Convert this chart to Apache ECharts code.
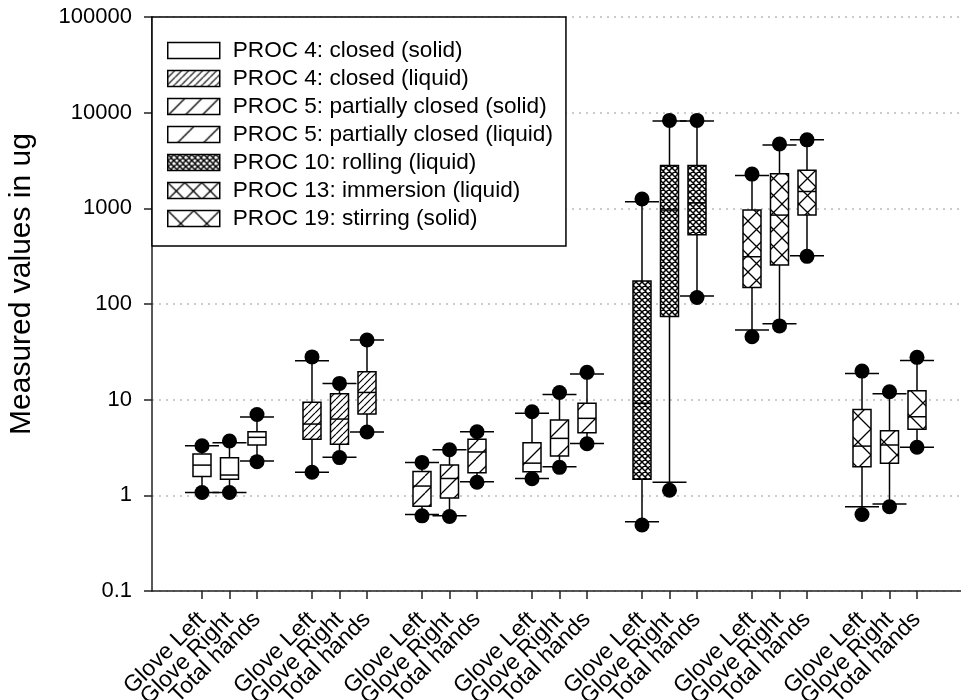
<!DOCTYPE html>
<html>
<head>
<meta charset="utf-8">
<script src="https://cdn.jsdelivr.net/npm/echarts@6.0.0/dist/echarts.min.js"></script>
<style>
  html, body { margin: 0; padding: 0; background: #fff; }
  #main { width: 961px; height: 700px; }
</style>
</head>
<body>
<div id="main"></div>
<script>
// legend entries, one per process group
const groupNames = [
  'PROC 4: closed (solid)',
  'PROC 4: closed (liquid)',
  'PROC 5: partially closed (solid)',
  'PROC 5: partially closed (liquid)',
  'PROC 10: rolling (liquid)',
  'PROC 13: immersion (liquid)',
  'PROC 19: stirring (solid)'
];
const boxLabels = ['Glove Left', 'Glove Right', 'Total hands'];
const yTicks = [0.1, 1, 10, 100, 1000, 10000, 100000];

// each box: [dot low, whisker low, q1, median, q3, whisker high, dot high]
const proc4Solid = [
  [1.07, 1.07, 1.57, 2.07, 2.7, 3.3, 3.3],
  [1.07, 1.07, 1.47, 1.63, 2.47, 3.55, 3.7],
  [2.25, 2.28, 3.36, 4.04, 4.62, 6.6, 7.0]
];
const proc4Liquid = [
  [1.74, 1.74, 3.85, 5.56, 9.4, 25.5, 28],
  [2.48, 2.5, 3.41, 6.27, 11.5, 14.8, 14.8],
  [4.59, 4.59, 7.08, 11.9, 19.6, 42, 42]
];
const proc5Solid = [
  [0.61, 0.63, 0.77, 1.25, 1.77, 2.21, 2.21],
  [0.6, 0.61, 0.94, 1.5, 2.07, 3.0, 3.0],
  [1.37, 1.39, 1.72, 2.84, 3.85, 4.62, 4.62]
];
const proc5Liquid = [
  [1.49, 1.5, 1.76, 2.17, 3.55, 7.2, 7.48],
  [1.96, 1.99, 2.58, 3.94, 6.12, 11.3, 11.9],
  [3.46, 3.49, 4.51, 6.38, 9.15, 18.5, 19.3]
];
const proc10Liquid = [
  [0.49, 0.53, 1.47, 9.15, 174, 1170, 1250],
  [1.13, 1.37, 74, 960, 2800, 8200, 8300],
  [117, 121, 530, 1140, 2800, 8200, 8300]
];
const proc13Liquid = [
  [45.5, 53.5, 149, 312, 960, 2200, 2280],
  [59, 62, 256, 850, 2300, 4600, 4700],
  [315, 320, 850, 1500, 2500, 5200, 5200]
];
const proc19Solid = [
  [0.63, 0.76, 1.99, 3.27, 7.9, 18.8, 19.9],
  [0.76, 0.81, 2.16, 3.36, 4.73, 11.5, 12.1],
  [3.18, 3.18, 4.9, 6.63, 12.4, 25.6, 27.7]
];
const groupData = [proc4Solid, proc4Liquid, proc5Solid, proc5Liquid, proc10Liquid, proc13Liquid, proc19Solid];

const font = 'Liberation Sans, Arial, sans-serif';
const xMin = -1.818, xMax = 27.6;

// hatch fill: diagonal lines, optionally crossed
function makePattern(step, cross, lw) {
  const cv = document.createElement('canvas');
  cv.width = step;
  cv.height = step;
  const ctx = cv.getContext('2d');
  ctx.fillStyle = '#fff';
  ctx.fillRect(0, 0, step, step);
  ctx.strokeStyle = '#000';
  ctx.lineWidth = lw;
  ctx.beginPath();
  for (let k = -1; k <= 1; k++) {
    ctx.moveTo(k * step, step);
    ctx.lineTo(k * step + step, 0);
    if (cross) {
      ctx.moveTo(k * step, 0);
      ctx.lineTo(k * step + step, step);
    }
  }
  ctx.stroke();
  return { image: cv, repeat: 'repeat' };
}

const fills = [
  '#fff',
  makePattern(7, false, 1.2),
  makePattern(17, false, 1.3),
  makePattern(26, false, 1.3),
  makePattern(6, true, 1.5),
  makePattern(17, true, 1.3),
  makePattern(26, true, 1.3)
];

// x positions: 3 boxes per group, one empty slot between groups
const boxPositions = [];
groupData.forEach((g, gi) => g.forEach((b, i) => boxPositions.push(gi * 4 + i)));
// blank labels at both ends so echarts' min/max overlap check leaves the real ones alone
const labelPositions = [xMin + 0.02].concat(boxPositions, [xMax - 0.02]);

function renderBox(params, api) {
  const x = api.value(0);
  const py = (d) => api.coord([x, api.value(d)])[1];
  const cx = api.coord([x, 1])[0];
  const bw = 18, cw = 34, r = 7.5;
  const ln = { stroke: '#000', lineWidth: 1.5 };
  const q1 = py(3), q3 = py(5), md = py(4);
  const wLo = py(2), wHi = py(6);
  return {
    type: 'group',
    children: [
      { type: 'line', shape: { x1: cx, y1: wLo, x2: cx, y2: wHi }, style: ln },
      { type: 'line', shape: { x1: cx - cw / 2, y1: wLo, x2: cx + cw / 2, y2: wLo }, style: ln },
      { type: 'line', shape: { x1: cx - cw / 2, y1: wHi, x2: cx + cw / 2, y2: wHi }, style: ln },
      {
        type: 'rect',
        shape: { x: cx - bw / 2, y: q3, width: bw, height: q1 - q3 },
        style: { fill: fills[params.seriesIndex], stroke: '#000', lineWidth: 1.5 }
      },
      { type: 'line', shape: { x1: cx - bw / 2, y1: md, x2: cx + bw / 2, y2: md }, style: ln },
      { type: 'circle', shape: { cx: cx, cy: py(1), r: r }, style: { fill: '#000' } },
      { type: 'circle', shape: { cx: cx, cy: py(7), r: r }, style: { fill: '#000' } }
    ]
  };
}

const series = groupNames.map((name, gi) => ({
  name: name,
  type: 'custom',
  renderItem: renderBox,
  itemStyle: { color: fills[gi], borderColor: '#000', borderWidth: 1.5 },
  encode: { x: 0, y: [1, 2, 3, 4, 5, 6, 7] },
  data: groupData[gi].map((b, i) => [gi * 4 + i].concat(b))
}));

const chart = echarts.init(document.getElementById('main'));
chart.setOption({
  animation: false,
  textStyle: { fontFamily: font },
  grid: { left: 152, right: 0, top: 17, bottom: 109, containLabel: false, outerBoundsMode: 'none' },
  legend: {
    orient: 'vertical',
    left: 152,
    top: 17,
    padding: [22, 13, 16, 15],
    itemGap: 5,
    itemWidth: 52,
    itemHeight: 16,
    icon: 'rect',
    selectedMode: false,
    backgroundColor: '#fff',
    borderColor: '#000',
    borderWidth: 1.5,
    itemStyle: { borderColor: '#000', borderWidth: 1.5 },
    textStyle: { fontSize: 22.6, color: '#000', fontFamily: font, lineHeight: 22, padding: [0, 0, 0, 8] },
    data: groupNames
  },
  xAxis: {
    type: 'value',
    min: xMin,
    max: xMax,
    splitLine: { show: false },
    axisLine: { onZero: false, lineStyle: { color: '#222', width: 1.5 } },
    axisTick: { length: 8, customValues: boxPositions, lineStyle: { color: '#222', width: 1.5 } },
    axisLabel: {
      customValues: labelPositions,
      rotate: 45,
      fontSize: 23,
      color: '#000',
      margin: 25,
      hideOverlap: false,
      formatter: (v) => {
        const k = Math.round(v);
        return Math.abs(v - k) < 0.01 ? boxLabels[k % 4] : ' ';
      }
    }
  },
  yAxis: {
    type: 'log',
    logBase: 10,
    min: yTicks[0],
    max: yTicks[yTicks.length - 1],
    name: 'Measured values in ug',
    nameLocation: 'middle',
    nameGap: 115,
    nameTextStyle: { fontSize: 30, color: '#000', padding: [0, 0, 0, 40] },
    axisLine: { show: true, onZero: false, lineStyle: { color: '#222', width: 1.5 } },
    axisTick: { show: true, length: 8, lineStyle: { color: '#222', width: 1.5 } },
    axisLabel: {
      fontSize: 22,
      color: '#000',
      margin: 20,
      formatter: (v) => String(+(+v).toPrecision(6))
    },
    splitLine: { show: true, lineStyle: { color: '#bbb', width: 1.5, type: [2, 5] } }
  },
  series: series
});
</script>
</body>
</html>
